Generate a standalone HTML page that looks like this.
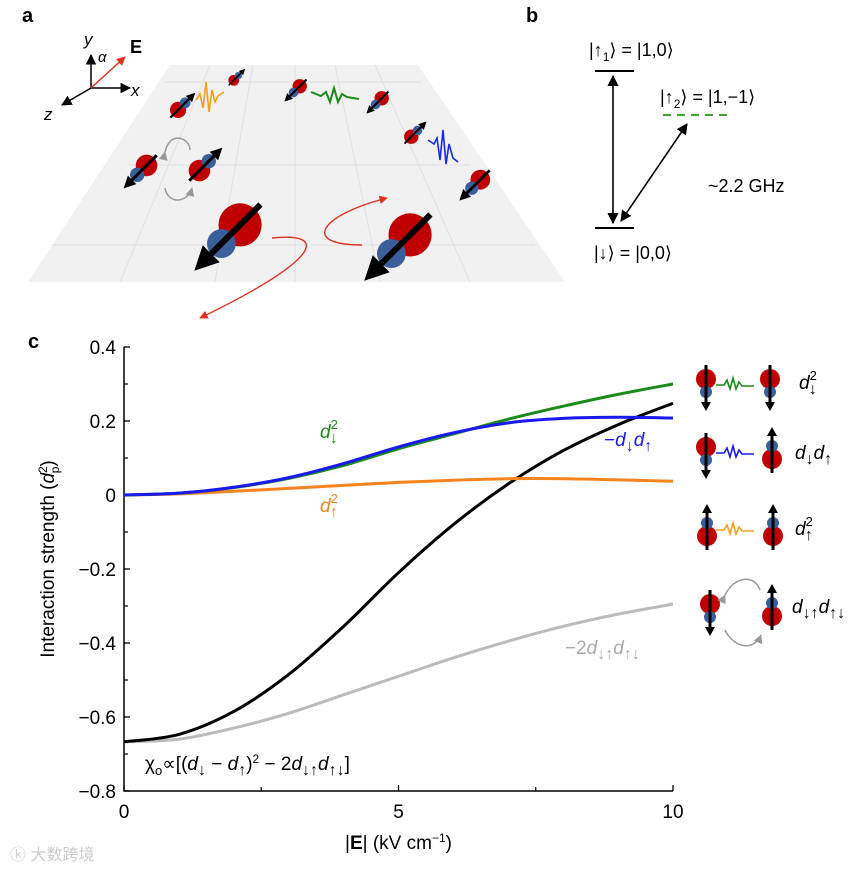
<!DOCTYPE html>
<html><head><meta charset="utf-8">
<style>
html,body{margin:0;padding:0;background:#fff;}
svg{display:block;font-family:"Liberation Sans",Arial,sans-serif;}
.it{font-style:italic;}
</style></head>
<body>
<svg id="fig" width="863" height="870" viewBox="0 0 863 870" xmlns="http://www.w3.org/2000/svg">
<defs>
<marker id="ah" viewBox="0 0 10 10" refX="9" refY="5" markerWidth="7" markerHeight="7" orient="auto-start-reverse"><path d="M0,0L10,5L0,10z" fill="#000"/></marker>
<marker id="ahr" viewBox="0 0 10 10" refX="9" refY="5" markerWidth="6" markerHeight="6" orient="auto"><path d="M0,0L10,5L0,10z" fill="#e03020"/></marker>
<marker id="ahg" viewBox="0 0 10 10" refX="9" refY="5" markerWidth="6" markerHeight="6" orient="auto"><path d="M0,0L10,5L0,10z" fill="#999"/></marker>
</defs>

<text x="22" y="22" font-size="20" font-weight="bold">a</text>
<text x="526" y="22" font-size="20" font-weight="bold">b</text>
<text x="28" y="348" font-size="20" font-weight="bold">c</text>

<g id="panelA">
<polygon points="170,65 418,65 565,282 28,282" fill="#f1f1f1"/>
<g stroke="#e2e2e2" stroke-width="1.2" fill="none">
<line x1="165" y1="82" x2="421" y2="82"/><line x1="128" y1="165" x2="470" y2="165"/><line x1="52" y1="245" x2="535" y2="245"/>
<line x1="210" y1="65" x2="120" y2="282"/><line x1="253" y1="65" x2="215" y2="282"/><line x1="295" y1="65" x2="295" y2="282"/>
<line x1="335" y1="65" x2="380" y2="282"/><line x1="375" y1="65" x2="470" y2="282"/>
</g>
<g>
<line x1="91" y1="88" x2="91" y2="55" stroke="#000" stroke-width="1.5" marker-end="url(#ah)"/>
<line x1="91" y1="88" x2="130" y2="88" stroke="#000" stroke-width="1.5" marker-end="url(#ah)"/>
<line x1="91" y1="88" x2="62" y2="105" stroke="#000" stroke-width="1.5" marker-end="url(#ah)"/>
<line x1="91" y1="88" x2="125" y2="57" stroke="#e03020" stroke-width="1.5" marker-end="url(#ahr)"/>
<text x="84" y="45" font-size="17" class="it">y</text>
<text x="98" y="62" font-size="15" class="it">α</text>
<text x="130" y="53" font-size="18" font-weight="bold">E</text>
<text x="131" y="96" font-size="17" class="it">x</text>
<text x="44" y="120" font-size="17" class="it">z</text>
</g>
<g id="aMols"></g>
<path d="M196,100 l4,-6 l3,14 l3,-26 l3,30 l3,-22 l3,12 l3,-6 l6,-4" stroke="#f0a020" stroke-width="1.6" fill="none"/>
<path d="M311,92 l10,4 l5,-4 l4,10 l4,-14 l4,14 l4,-8 l5,3 l12,2" stroke="#1a8a1a" stroke-width="2" fill="none"/>
<path d="M428,140 l6,4 l3,-6 l3,22 l3,-30 l3,34 l3,-20 l4,14 l5,4" stroke="#1a2ae0" stroke-width="1.6" fill="none"/>
<path d="M165,152 C170,130 190,138 190,150" stroke="#999" stroke-width="1.5" fill="none" marker-start="url(#ahg)"/>
<path d="M165,188 C168,205 188,203 192,188" stroke="#999" stroke-width="1.5" fill="none" marker-end="url(#ahg)"/>
<path d="M272,238 C330,232 320,260 200,318" stroke="#e03020" stroke-width="1.4" fill="none" marker-end="url(#ahr)"/>
<path d="M362,245 C300,245 320,215 387,198" stroke="#e03020" stroke-width="1.4" fill="none" marker-end="url(#ahr)"/>
</g>

<g id="panelB">
<line x1="595" y1="71" x2="634" y2="71" stroke="#000" stroke-width="2"/>
<line x1="595" y1="228" x2="634" y2="228" stroke="#000" stroke-width="2"/>
<line x1="663" y1="115" x2="731" y2="115" stroke="#3aaa2a" stroke-width="2" stroke-dasharray="8,6"/>
<line x1="613" y1="76" x2="613" y2="223" stroke="#000" stroke-width="1.6" marker-start="url(#ah)" marker-end="url(#ah)"/>
<line x1="621" y1="221" x2="687" y2="124" stroke="#000" stroke-width="1.6" marker-start="url(#ah)" marker-end="url(#ah)"/>
<text x="589" y="56" font-size="18">|↑<tspan font-size="12" dy="5">1</tspan><tspan dy="-5">⟩ = |1,0⟩</tspan></text>
<text x="660" y="103" font-size="18">|↑<tspan font-size="12" dy="5">2</tspan><tspan dy="-5">⟩ = |1,−1⟩</tspan></text>
<text x="708" y="192" font-size="18">~2.2 GHz</text>
<text x="594" y="259" font-size="18">|↓⟩ = |0,0⟩</text>
</g>

<g id="chart"></g>
<g id="icons"></g>
<text x="10" y="860" font-size="16" fill="#ccc">ⓚ 大数跨境</text>
</svg>

<script>
const xs = [0,1,2,3,4,5,6,7,8,9,10];
const greenVals  = [0,0.005,0.02,0.045,0.08,0.125,0.165,0.205,0.24,0.272,0.30];
const blueVals   = [0,0.005,0.021,0.047,0.085,0.13,0.168,0.195,0.207,0.21,0.208];
const orangeVals = [0,0.003,0.01,0.018,0.026,0.034,0.04,0.044,0.044,0.041,0.037];
const blackVals  = [-0.667,-0.647,-0.585,-0.485,-0.355,-0.21,-0.08,0.03,0.12,0.19,0.248];
const grayVals   = [-0.667,-0.66,-0.63,-0.59,-0.54,-0.49,-0.44,-0.395,-0.355,-0.322,-0.295];
const yTicks = [0.4,0.2,0,-0.2,-0.4,-0.6,-0.8];
const yTickLabels = ["0.4","0.2","0","−0.2","−0.4","−0.6","−0.8"];
const xTicks = [0,5,10];
const xTickLabels = ["0","5","10"];

const NS = "http://www.w3.org/2000/svg";
const X0=124, X1=673, Y0=347, Y1=791;
function sx(v){return X0+(v-0)/(10-0)*(X1-X0);}
function sy(v){return Y0+(0.4-v)/(0.4+0.8)*(Y1-Y0);}
function mk(tag,attrs,parent){const e=document.createElementNS(NS,tag);for(const k in attrs)e.setAttribute(k,attrs[k]);parent.appendChild(e);return e;}
const chart=document.getElementById('chart');

let ax=mk('path',{d:`M${X0},${Y0}V${Y1}H${X1}`,stroke:'#000','stroke-width':1.5,fill:'none'},chart);


yTicks.forEach((t,i)=>{
  const y=sy(t);
  const tk=mk('line',{x1:X0,y1:y,x2:X0+6,y2:y,stroke:'#000','stroke-width':1.3},chart);
  
  
  if(i<yTicks.length-1){const my=sy(t-0.1);const m=mk('line',{x1:X0,y1:my,x2:X0+4,y2:my,stroke:'#000','stroke-width':1.2},chart);
    
    }
  const lb=mk('text',{x:X0-8,y:y+7,'font-size':19,'text-anchor':'end'},chart);lb.textContent=yTickLabels[i];
  
  
});
xTicks.forEach((t,i)=>{
  const x=sx(t);
  const tk=mk('line',{x1:x,y1:Y1,x2:x,y2:Y1-6,stroke:'#000','stroke-width':1.3},chart);
  
  
  if(i<xTicks.length-1){const mx=sx(t+2.5);const m=mk('line',{x1:mx,y1:Y1,x2:mx,y2:Y1-4,stroke:'#000','stroke-width':1.2},chart);
    
    }
  const lb=mk('text',{x:x,y:Y1+27,'font-size':19,'text-anchor':'middle'},chart);lb.textContent=xTickLabels[i];
  
  
});
const xt=mk('text',{x:(X0+X1)/2,y:Y1+58,'font-size':19,'text-anchor':'middle'},chart);
xt.innerHTML='|<tspan font-weight="bold">E</tspan>| (kV cm<tspan font-size="12" dy="-7">−1</tspan><tspan dy="7">)</tspan>';


const yt=mk('text',{x:0,y:0,'font-size':19,'text-anchor':'middle',transform:`translate(54,${(Y0+Y1)/2-10}) rotate(-90)`},chart);
yt.innerHTML='Interaction strength (<tspan font-style="italic">d</tspan><tspan font-size="12" dy="-7">2</tspan><tspan font-size="12" dx="-7" dy="12">p</tspan><tspan dy="-5">)</tspan>';



function curve(vals){
  const p=xs.map((x,i)=>[sx(x),sy(vals[i])]);
  let d=`M${p[0][0]},${p[0][1]}`;
  for(let i=0;i<p.length-1;i++){
    const p0=p[Math.max(0,i-1)],p1=p[i],p2=p[i+1],p3=p[Math.min(p.length-1,i+2)];
    const c1=[p1[0]+(p2[0]-p0[0])/6,p1[1]+(p2[1]-p0[1])/6];
    const c2=[p2[0]-(p3[0]-p1[0])/6,p2[1]-(p3[1]-p1[1])/6];
    d+=`C${c1[0]},${c1[1]} ${c2[0]},${c2[1]} ${p2[0]},${p2[1]}`;
  }
  return d;
}
const series=[[grayVals,'#bbbbbb','series-gray'],[blackVals,'#000000','series-black'],[orangeVals,'#f5841f','series-orange'],[greenVals,'#1a8a1a','series-green'],[blueVals,'#1a1aee','series-blue']];
series.forEach(s=>{
  const p=mk('path',{d:curve(s[0]),stroke:s[1],'stroke-width':3,fill:'none'},chart);
  
  
});
function lbl(x,y,html,color,name){const t=mk('text',{x:x,y:y,'font-size':19,fill:color},chart);t.innerHTML=html;
  
  }
lbl(320,438,'<tspan font-style="italic">d</tspan><tspan font-size="13" dy="-9">2</tspan><tspan font-size="16" dx="-8" dy="14">↓</tspan>','#1a8a1a','label-green');
lbl(320,512,'<tspan font-style="italic">d</tspan><tspan font-size="13" dy="-9">2</tspan><tspan font-size="16" dx="-8" dy="14">↑</tspan>','#f5841f','label-orange');
lbl(604,446,'−<tspan font-style="italic">d</tspan><tspan font-size="16" dy="5">↓</tspan><tspan font-style="italic" dy="-5">d</tspan><tspan font-size="16" dy="5">↑</tspan>','#1a1aee','label-blue');
lbl(565,654,'−2<tspan font-style="italic">d</tspan><tspan font-size="16" dy="5">↓↑</tspan><tspan font-style="italic" dy="-5">d</tspan><tspan font-size="16" dy="5">↑↓</tspan>','#aaaaaa','label-gray');
lbl(145,770,'χ<tspan font-size="13" dy="5">o</tspan><tspan dy="-5">∝[(</tspan><tspan font-style="italic">d</tspan><tspan font-size="16" dy="5">↓</tspan><tspan dy="-5"> − </tspan><tspan font-style="italic">d</tspan><tspan font-size="16" dy="5">↑</tspan><tspan dy="-5">)</tspan><tspan font-size="12" dy="-7">2</tspan><tspan dy="7"> − 2</tspan><tspan font-style="italic">d</tspan><tspan font-size="16" dy="5">↓↑</tspan><tspan font-style="italic" dy="-5">d</tspan><tspan font-size="16" dy="5">↑↓</tspan><tspan dy="-5">]</tspan>','#000','formula');

function mol(parent,cx,cy,s,ang,name){
  const g=mk('g',{transform:`translate(${cx},${cy}) rotate(${ang}) scale(${s})`},parent);
  
  
  mk('circle',{cx:0,cy:-3,r:9,fill:'#c00000'},g);
  mk('circle',{cx:0,cy:8,r:6,fill:'#3a5f9a'},g);
  mk('line',{x1:0,y1:-15,x2:0,y2:16,stroke:'#000','stroke-width':2.5},g);
  mk('path',{d:'M-5,14 L0,24 L5,14z',fill:'#000'},g);
}
const aM=document.getElementById('aMols');
mol(aM,180,108,0.9,-135,'molecule-small-1');
mol(aM,235,79,0.6,-135,'molecule-small-2');
mol(aM,298,88,0.8,45,'molecule-small-3');
mol(aM,380,100,0.8,45,'molecule-small-4');
mol(aM,413,135,0.8,-135,'molecule-small-5');
mol(aM,478,182,1.1,45,'molecule-medium-1');
mol(aM,144,168,1.2,45,'molecule-medium-2');
mol(aM,202,168,1.2,-135,'molecule-medium-3');
mol(aM,235,230,2.4,45,'molecule-large-1');
mol(aM,405,240,2.4,45,'molecule-large-2');

const ic=document.getElementById('icons');
function vmol(x,y,up,name){
  const g=mk('g',{transform:`translate(${x},${y})`},ic);
  
  
  const rY=up?6:-6, bY=up?-7:7;
  mk('circle',{cx:0,cy:rY,r:10,fill:'#c00000'},g);
  mk('circle',{cx:0,cy:bY,r:6,fill:'#3a5f9a'},g);
  mk('line',{x1:0,y1:-20,x2:0,y2:20,stroke:'#000','stroke-width':3},g);
  if(up) mk('path',{d:'M-5,-17 L0,-26 L5,-17z',fill:'#000'},g);
  else mk('path',{d:'M-5,17 L0,26 L5,17z',fill:'#000'},g);
}
function wave(y,color,name){
  const p=mk('path',{d:`M716,${y} h8 l3,-5 l3,9 l3,-11 l3,11 l3,-7 l3,4 h12`,stroke:color,'stroke-width':1.6,fill:'none'},ic);
  
  
}
const rowY=[385,453,530,610];
vmol(706,rowY[0],false,'icon-down-left');vmol(770,rowY[0],false,'icon-down-right');wave(rowY[0],'#1a8a1a','icon-wave-green');
vmol(706,rowY[1],false,'icon-down-left-2');vmol(772,rowY[1],true,'icon-up-right-2');wave(rowY[1],'#1a1aee','icon-wave-blue');
vmol(707,rowY[2],true,'icon-up-left-3');vmol(773,rowY[2],true,'icon-up-right-3');wave(rowY[2],'#f0a020','icon-wave-orange');
vmol(710,rowY[3],false,'icon-down-left-4');vmol(772,rowY[3],true,'icon-up-right-4');
let ga=mk('path',{d:'M725,595 C735,575 755,575 760,590',stroke:'#999','stroke-width':1.5,fill:'none','marker-start':'url(#ahg)'},ic);


ga=mk('path',{d:'M725,630 C735,650 755,650 761,635',stroke:'#999','stroke-width':1.5,fill:'none','marker-end':'url(#ahg)'},ic);


function ilbl(x,y,html,name){const t=mk('text',{x:x,y:y,'font-size':19},ic);t.innerHTML=html;
  
  }
ilbl(799,389,'<tspan font-style="italic">d</tspan><tspan font-size="13" dy="-9">2</tspan><tspan font-size="16" dx="-8" dy="14">↓</tspan>','icon-label-d-down-sq');
ilbl(795,459,'<tspan font-style="italic">d</tspan><tspan font-size="16" dy="5">↓</tspan><tspan font-style="italic" dy="-5">d</tspan><tspan font-size="16" dy="5">↑</tspan>','icon-label-d-down-d-up');
ilbl(795,535,'<tspan font-style="italic">d</tspan><tspan font-size="13" dy="-9">2</tspan><tspan font-size="16" dx="-8" dy="14">↑</tspan>','icon-label-d-up-sq');
ilbl(792,613,'<tspan font-style="italic">d</tspan><tspan font-size="16" dy="5">↓↑</tspan><tspan font-style="italic" dy="-5">d</tspan><tspan font-size="16" dy="5">↑↓</tspan>','icon-label-exchange');
</script>
</body></html>
